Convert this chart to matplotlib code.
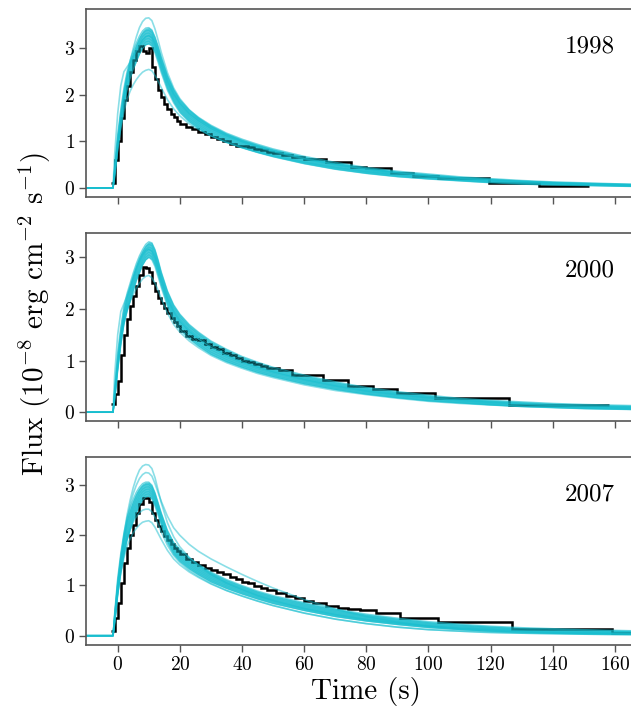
import numpy as np
import matplotlib
matplotlib.use("Agg")
import matplotlib.pyplot as plt

plt.rcParams['font.family'] = ['cmr10', 'DejaVu Serif']
plt.rcParams['mathtext.fontset'] = 'cm'
plt.rcParams['axes.formatter.use_mathtext'] = True

years = ["1998", "2000", "2007"]

# model time grid (s)
model_t = [-10, -1.5, -1, 0, 1, 2, 3, 4, 5, 6, 7, 8, 9, 10, 11, 12, 13, 14, 16, 18, 20,
           23, 26, 30, 35, 40, 45, 50, 60, 70, 80, 90, 100, 110, 120, 130, 140, 150, 165]

# ---- 1998 ----
m1998_hi = [0, 0, 0.45, 1.15, 1.7, 2.15, 2.5, 2.75, 2.95, 3.12, 3.27, 3.38, 3.44, 3.45, 3.4, 3.25, 3.05, 2.82, 2.42, 2.12, 1.9,
            1.68, 1.52, 1.35, 1.18, 1.05, 0.94, 0.84, 0.68, 0.55, 0.44, 0.36, 0.3, 0.24, 0.2, 0.16, 0.13, 0.11, 0.08]
m1998_lo = [0, 0, 0.2, 0.8, 1.3, 1.75, 2.1, 2.35, 2.55, 2.72, 2.88, 3.0, 3.08, 3.1, 3.05, 2.9, 2.7, 2.48, 2.1, 1.83, 1.62,
            1.42, 1.28, 1.12, 0.98, 0.86, 0.76, 0.67, 0.52, 0.4, 0.31, 0.24, 0.19, 0.15, 0.11, 0.08, 0.06, 0.05, 0.03]
m1998_extra = [
    [0, 0, 0.35, 1.0, 1.55, 2.0, 2.4, 2.72, 3.0, 3.25, 3.45, 3.58, 3.65, 3.66, 3.6, 3.42, 3.18, 2.92, 2.48, 2.15, 1.92,
     1.68, 1.5, 1.32, 1.15, 1.01, 0.9, 0.8, 0.64, 0.51, 0.41, 0.33, 0.26, 0.21, 0.17, 0.14, 0.11, 0.09, 0.07],
    [0, 0, 0.3, 0.85, 1.3, 1.65, 1.9, 2.08, 2.22, 2.33, 2.42, 2.49, 2.53, 2.55, 2.52, 2.42, 2.3, 2.16, 1.9, 1.7, 1.55,
     1.38, 1.26, 1.12, 0.98, 0.87, 0.77, 0.69, 0.55, 0.44, 0.35, 0.28, 0.22, 0.17, 0.14, 0.11, 0.09, 0.07, 0.05],
    [0, 0, 0.7, 1.6, 2.2, 2.5, 2.6, 2.7, 2.82, 2.95, 3.07, 3.18, 3.25, 3.28, 3.24, 3.1, 2.9, 2.68, 2.3, 2.02, 1.82,
     1.6, 1.45, 1.28, 1.12, 0.99, 0.88, 0.78, 0.62, 0.5, 0.4, 0.32, 0.26, 0.21, 0.17, 0.14, 0.11, 0.09, 0.07],
]

# ---- 2000 ----
m2000_hi = [0, 0, 0.45, 1.15, 1.65, 2.05, 2.3, 2.5, 2.7, 2.88, 3.03, 3.15, 3.25, 3.3, 3.28, 3.15, 2.95, 2.72, 2.35, 2.08, 1.9,
            1.7, 1.55, 1.38, 1.22, 1.08, 0.97, 0.87, 0.72, 0.59, 0.48, 0.4, 0.33, 0.27, 0.23, 0.2, 0.17, 0.15, 0.13]
m2000_lo = [0, 0, 0.2, 0.8, 1.3, 1.7, 1.95, 2.15, 2.35, 2.55, 2.7, 2.85, 2.95, 3.0, 2.95, 2.82, 2.62, 2.42, 2.05, 1.78, 1.6,
            1.42, 1.28, 1.12, 0.98, 0.87, 0.77, 0.69, 0.55, 0.44, 0.35, 0.28, 0.22, 0.18, 0.14, 0.11, 0.09, 0.07, 0.05]
m2000_extra = [
    [0, 0, 0.3, 0.9, 1.4, 1.75, 2.0, 2.15, 2.28, 2.4, 2.5, 2.58, 2.63, 2.65, 2.6, 2.5, 2.36, 2.2, 1.92, 1.7, 1.55,
     1.38, 1.25, 1.1, 0.96, 0.85, 0.75, 0.67, 0.53, 0.42, 0.34, 0.27, 0.21, 0.17, 0.14, 0.11, 0.09, 0.07, 0.06],
    [0, 0, 0.7, 1.5, 1.95, 2.1, 2.25, 2.42, 2.6, 2.78, 2.93, 3.05, 3.13, 3.16, 3.12, 3.0, 2.8, 2.58, 2.2, 1.95, 1.76,
     1.57, 1.42, 1.26, 1.1, 0.97, 0.87, 0.78, 0.63, 0.51, 0.41, 0.34, 0.28, 0.23, 0.19, 0.16, 0.13, 0.11, 0.09],
]

# ---- 2007 ----
m2007_hi = [0, 0, 0.45, 1.15, 1.65, 2.05, 2.35, 2.55, 2.72, 2.86, 2.96, 3.03, 3.06, 3.06, 3.0, 2.85, 2.65, 2.45, 2.1, 1.86, 1.72,
            1.55, 1.42, 1.27, 1.12, 1.0, 0.89, 0.8, 0.66, 0.53, 0.43, 0.35, 0.28, 0.23, 0.19, 0.16, 0.14, 0.12, 0.1]
m2007_lo = [0, 0, 0.2, 0.8, 1.25, 1.6, 1.9, 2.1, 2.3, 2.45, 2.6, 2.7, 2.76, 2.78, 2.72, 2.58, 2.4, 2.2, 1.85, 1.62, 1.48,
            1.33, 1.21, 1.07, 0.94, 0.83, 0.73, 0.64, 0.5, 0.38, 0.29, 0.22, 0.16, 0.12, 0.09, 0.07, 0.05, 0.04, 0.03]
m2007_extra = [
    [0, 0, 0.35, 1.0, 1.55, 2.0, 2.4, 2.7, 2.95, 3.15, 3.3, 3.38, 3.41, 3.4, 3.33, 3.15, 2.9, 2.65, 2.25, 1.97, 1.77,
     1.56, 1.4, 1.22, 1.05, 0.92, 0.8, 0.7, 0.54, 0.42, 0.32, 0.25, 0.19, 0.15, 0.12, 0.09, 0.07, 0.06, 0.04],
    [0, 0, 0.35, 1.0, 1.5, 1.95, 2.3, 2.6, 2.83, 3.0, 3.13, 3.21, 3.25, 3.24, 3.18, 3.03, 2.85, 2.68, 2.38, 2.15, 2.0,
     1.82, 1.68, 1.53, 1.37, 1.22, 1.08, 0.95, 0.72, 0.53, 0.38, 0.27, 0.19, 0.13, 0.09, 0.06, 0.05, 0.04, 0.03],
    [0, 0, 0.3, 0.9, 1.35, 1.7, 1.95, 2.12, 2.26, 2.37, 2.45, 2.5, 2.52, 2.52, 2.47, 2.36, 2.22, 2.07, 1.8, 1.6, 1.46,
     1.3, 1.18, 1.04, 0.9, 0.79, 0.69, 0.6, 0.45, 0.33, 0.24, 0.17, 0.12, 0.09, 0.06, 0.05, 0.04, 0.03, 0.02],
    [0, 0, 0.3, 0.85, 1.25, 1.55, 1.78, 1.93, 2.05, 2.14, 2.21, 2.26, 2.28, 2.29, 2.25, 2.16, 2.04, 1.92, 1.7, 1.53, 1.41,
     1.27, 1.16, 1.03, 0.9, 0.79, 0.69, 0.6, 0.45, 0.33, 0.24, 0.17, 0.12, 0.09, 0.07, 0.05, 0.04, 0.03, 0.02],
]

# ---- observed light curves (step data) ----
obs1998_edges = [-2, -1, 0, 1, 2, 3, 4, 5, 6, 7, 8, 9, 10, 11, 12, 13, 14, 15, 16, 17, 18, 19, 20, 22, 24, 26, 28, 30,
                 32, 34, 36, 38, 40, 42, 44, 46, 48, 50, 53, 56, 60, 67, 75, 80, 88, 95, 103, 119.5, 135.5, 151.5]
obs1998_vals = [0.1, 0.6, 1.0, 1.5, 1.9, 2.2, 2.5, 2.75, 2.95, 3.05, 2.95, 2.9, 3.0, 2.6, 2.35, 2.1, 1.95, 1.8, 1.7,
                1.6, 1.52, 1.45, 1.38, 1.32, 1.26, 1.2, 1.15, 1.1, 1.05, 1.0, 0.95, 0.9, 0.9, 0.87, 0.84, 0.81, 0.78,
                0.75, 0.71, 0.67, 0.62, 0.56, 0.45, 0.43, 0.32, 0.26, 0.21, 0.10, 0.05]

obs2000_edges = [-2, -1, 0, 1, 2, 3, 4, 5, 6, 7, 8, 9, 10, 11, 12, 13, 14, 15, 16, 17, 18, 19, 20, 22, 24, 26, 28, 30,
                 32, 34, 36, 38, 40, 42, 44, 46, 48, 52, 56, 66, 74, 82, 90, 102, 126, 158]
obs2000_vals = [0.16, 0.35, 0.6, 1.1, 1.5, 1.8, 2.05, 2.25, 2.45, 2.65, 2.82, 2.8, 2.72, 2.5, 2.35, 2.22, 2.12, 2.02,
                1.92, 1.82, 1.74, 1.66, 1.58, 1.48, 1.42, 1.4, 1.33, 1.27, 1.22, 1.15, 1.1, 1.05, 1.0, 0.97, 0.93,
                0.9, 0.86, 0.81, 0.72, 0.63, 0.51, 0.45, 0.37, 0.27, 0.14]

obs2007_edges = [-2, -1, 0, 1, 2, 3, 4, 5, 6, 7, 8, 9, 10, 11, 12, 13, 14, 15, 16, 17, 18, 19, 20, 22, 24, 26, 28, 30,
                 32, 34, 36, 38, 40, 42, 44, 46, 48, 51, 54, 57, 60, 63, 67, 71, 74, 78, 83, 91, 103, 127, 159, 170]
obs2007_vals = [0.1, 0.35, 0.65, 1.05, 1.45, 1.75, 2.0, 2.2, 2.45, 2.62, 2.75, 2.74, 2.66, 2.45, 2.3, 2.18, 2.08,
                1.98, 1.9, 1.82, 1.75, 1.68, 1.62, 1.52, 1.47, 1.4, 1.35, 1.31, 1.27, 1.22, 1.16, 1.12, 1.07, 1.04,
                0.98, 0.94, 0.9, 0.85, 0.8, 0.76, 0.7, 0.65, 0.6, 0.55, 0.54, 0.51, 0.45, 0.35, 0.28, 0.13, 0.05]

x_ticks = [0, 20, 40, 60, 80, 100, 120, 140, 160]
y_ticks = [0, 1, 2, 3]

panels = [
    ("1998", m1998_lo, m1998_hi, m1998_extra, obs1998_edges, obs1998_vals, (-0.19, 3.85)),
    ("2000", m2000_lo, m2000_hi, m2000_extra, obs2000_edges, obs2000_vals, (-0.165, 3.47)),
    ("2007", m2007_lo, m2007_hi, m2007_extra, obs2007_edges, obs2007_vals, (-0.18, 3.56)),
]

W, H = 631, 707
fig = plt.figure(figsize=(W / 100, H / 100), dpi=100)
left_px = 86
right_px = 646
panel_tops = [9, 233, 457]
panel_h = 187.7
cyan = '#17becf'
axes = []
for i, (yr, lo, hi, extra, edges, vals, ylim) in enumerate(panels):
    top = panel_tops[i]
    ax = fig.add_axes([left_px / W, 1 - (top + panel_h) / H, (right_px - left_px) / W, panel_h / H])
    t = np.array(model_t)
    lo = np.array(lo); hi = np.array(hi)
    ax.fill_between(t, lo, hi, color=cyan, alpha=0.75, lw=0)
    for k in range(1, 6):
        f = k / 6
        ax.plot(t, lo + f * (hi - lo), color=cyan, alpha=0.5, lw=1.0)
    ax.plot(t, lo, color=cyan, alpha=0.6, lw=1.0)
    ax.plot(t, hi, color=cyan, alpha=0.6, lw=1.0)
    for c in extra:
        ax.plot(t, c, color=cyan, alpha=0.5, lw=1.2)
    ax.stairs(vals, edges, color='black', lw=1.8, baseline=None)
    ax.set_xlim(-10.2, 170)
    ax.set_ylim(*ylim)
    ax.set_yticks(y_ticks)
    ax.set_xticks(x_ticks)
    for s in ax.spines.values():
        s.set_color('#555555')
        s.set_linewidth(1.2)
    ax.tick_params(direction='out', length=5, width=1, color='#555555', labelsize=14, pad=3)
    if i < 2:
        ax.tick_params(labelbottom=False)
    ax.text(0.90, 0.80, yr, transform=ax.transAxes, ha='center', va='center', fontsize=18)
    axes.append(ax)

axes[-1].set_xlabel('Time (s)', fontsize=21, labelpad=2)
fig.text(0.055, 0.556, r'Flux ($10^{-8}$ erg cm$^{-2}$ s$^{-1}$)', rotation=90, ha='center', va='center', fontsize=21)

fig.savefig('out.png', dpi=100)
